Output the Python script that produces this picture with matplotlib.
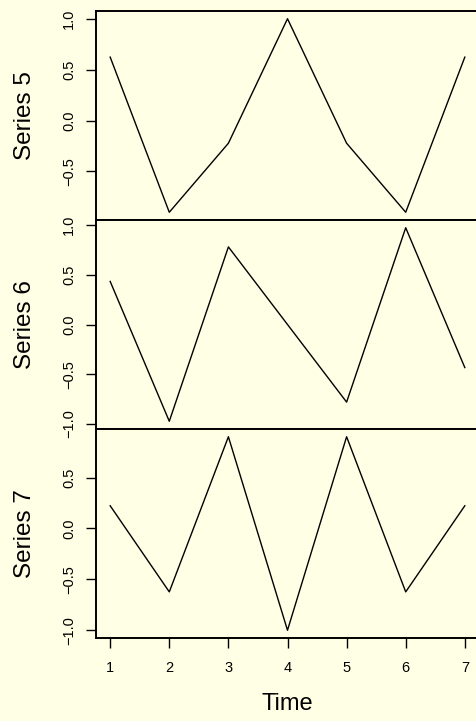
import matplotlib
matplotlib.use("Agg")
import matplotlib.pyplot as plt
from matplotlib.ticker import FixedLocator, FuncFormatter

plt.rcParams['font.family'] = ['Liberation Sans', 'DejaVu Sans']

time = [1, 2, 3, 4, 5, 6, 7]
series_names = ["Series 5", "Series 6", "Series 7"]
series5 = [0.623, -0.901, -0.223, 1.0, -0.223, -0.901, 0.623]
series6 = [0.434, -0.975, 0.782, 0.0, -0.782, 0.975, -0.434]
series7 = [0.223, -0.623, 0.901, -1.0, 0.901, -0.623, 0.223]
all_series = [series5, series6, series7]
y_ticks = [-1.0, -0.5, 0.0, 0.5, 1.0]
x_ticks = [1, 2, 3, 4, 5, 6, 7]
x_label = "Time"

W, H = 477, 721
bg = "#FFFFE6"
fig = plt.figure(figsize=(W / 100, H / 100), dpi=100, facecolor=bg)

left_px, right_px = 96, 479
tops = [11, 220, 429]
panel_h = 209

def fmt(v, pos):
    s = "%.1f" % v
    return s.replace("-", "\u2212")

axes = []
for i, (name, vals) in enumerate(zip(series_names, all_series)):
    top = tops[i]
    ax = fig.add_axes([left_px / W, 1 - (top + panel_h) / H,
                       (right_px - left_px) / W, panel_h / H])
    ax.set_facecolor(bg)
    ax.plot(time, vals, color="black", lw=1.0)
    lo, hi = min(vals), max(vals)
    pad = 0.04 * (hi - lo)
    ax.set_ylim(lo - pad, hi + pad)
    ax.set_xlim(1 - 0.04 * 6, 7 + 0.04 * 6)
    ax.yaxis.set_major_locator(FixedLocator(y_ticks))
    ax.yaxis.set_major_formatter(FuncFormatter(fmt))
    ax.tick_params(axis='y', length=7.2, width=1.0, pad=7, labelsize=10.5)
    for lab in ax.get_yticklabels():
        lab.set_rotation(90)
        lab.set_va('center')
    for sp in ax.spines.values():
        sp.set_linewidth(1.4)
    if i < 2:
        ax.tick_params(axis='x', bottom=False, labelbottom=False)
    else:
        ax.xaxis.set_major_locator(FixedLocator(x_ticks))
        ax.tick_params(axis='x', length=7.2, width=1.0, pad=9, labelsize=10.5)
    cy = 1 - (top + panel_h / 2) / H
    fig.text(25 / W, cy, name, rotation=90, ha='center', va='center', fontsize=17.5)
    axes.append(ax)

fig.text(((left_px + right_px) / 2) / W, 1 - 704 / H, x_label,
         ha='center', va='center', fontsize=17)

fig.savefig("out.png", dpi=100, facecolor=bg)
